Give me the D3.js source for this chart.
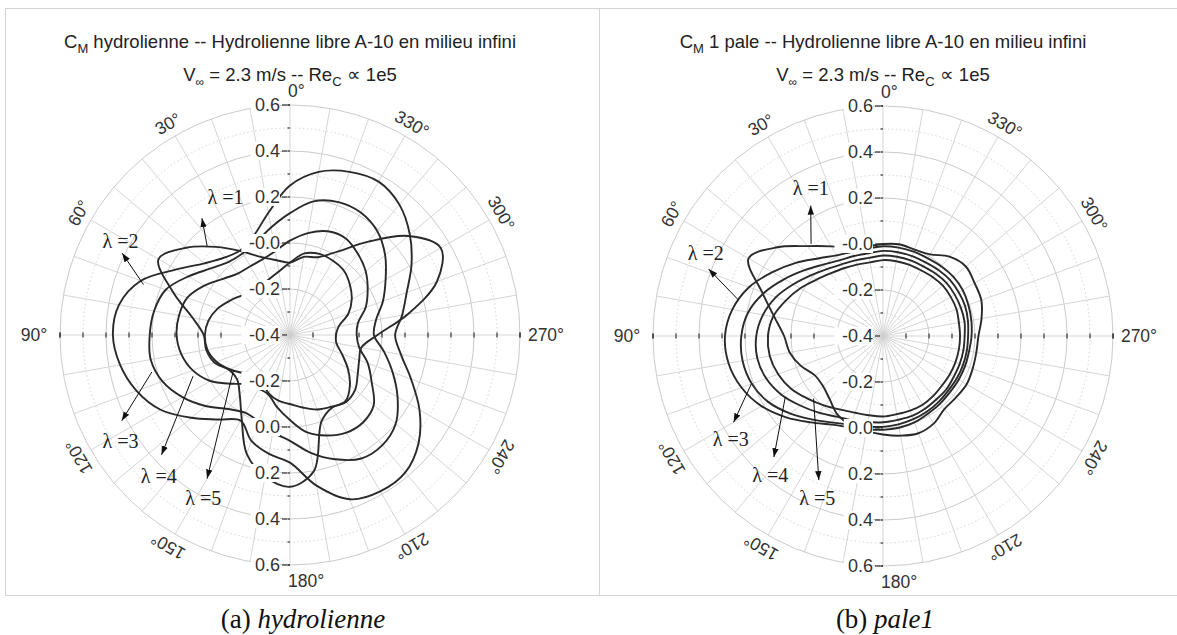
<!DOCTYPE html>
<html>
<head>
<meta charset="utf-8">
<script src="https://cdn.jsdelivr.net/npm/d3@7"></script>
<style>
  body { margin: 0; background: #fff; }
  svg { display: block; }
</style>
</head>
<body>
<div id="container"></div>
<script>
/* DATA */
const angles = [0, 10, 20, 30, 40, 50, 60, 70, 80, 90, 100, 110, 120, 130, 140, 150, 160, 170,
  180, 190, 200, 210, 220, 230, 240, 250, 260, 270, 280, 290, 300, 310, 320, 330, 340, 350];

// (a) hydrolienne - C_M vs azimuth, one array per lambda
const hydroL1 = [-0.085, -0.07, -0.04, 0.02, 0.1, 0.19, 0.26, 0.14, 0.03, -0.025, -0.03, -0.05,
  -0.095, -0.1, -0.06, 0.02, 0.15, 0.225, 0.26, 0.2, 0.0, -0.035, -0.02, -0.03, -0.06, -0.08,
  -0.085, -0.02, 0.12, 0.28, 0.357, 0.27, 0.13, 0.02, -0.04, -0.055];
const hydroL2 = [0.25, 0.14, 0.06, 0.027, 0.04, 0.085, 0.17, 0.29, 0.355, 0.37, 0.35, 0.31,
  0.25, 0.16, 0.08, 0.03, 0.09, 0.125, 0.155, 0.265, 0.36, 0.385, 0.38, 0.33, 0.25, 0.16,
  0.09, 0.057, 0.095, 0.14, 0.21, 0.28, 0.34, 0.37, 0.355, 0.32];
const hydroL3 = [0.13, 0.075, 0.03, 0.01, 0.015, 0.05, 0.11, 0.175, 0.2, 0.21, 0.215, 0.19,
  0.14, 0.08, 0.02, -0.01, 0.0, 0.03, 0.06, 0.12, 0.175, 0.22, 0.225, 0.2, 0.14, 0.075,
  0.015, -0.035, -0.02, 0.03, 0.08, 0.14, 0.19, 0.215, 0.215, 0.19];
const hydroL4 = [0.01, -0.03, -0.05, -0.055, -0.05, -0.02, 0.03, 0.075, 0.09, 0.093, 0.08, 0.05,
  0.0, -0.07, -0.12, -0.13, -0.125, -0.08, -0.03, 0.03, 0.065, 0.09, 0.095, 0.075, 0.01, -0.04,
  -0.095, -0.11, -0.1, -0.05, -0.01, 0.03, 0.06, 0.085, 0.08, 0.05];
const hydroL5 = [-0.085, -0.12, -0.14, -0.15, -0.145, -0.13, -0.1, -0.065, -0.04, -0.03, -0.035,
  -0.06, -0.1, -0.14, -0.16, -0.16, -0.13, -0.11, -0.1, -0.08, -0.055, -0.04, -0.025, -0.06,
  -0.11, -0.16, -0.195, -0.2, -0.185, -0.13, -0.09, -0.06, -0.035, -0.027, -0.025, -0.04];

// (b) pale1 - C_M of one blade
const paleL1 = [0.0, -0.005, 0.005, 0.05, 0.11, 0.2, 0.275, 0.16, 0.08, 0.03, 0.012, -0.02,
  -0.058, -0.06, -0.04, -0.005, 0.012, 0.02, 0.028, 0.04, 0.05, 0.04, 0.015, 0.015, 0.02, 0.015,
  0.012, 0.015, 0.035, 0.055, 0.06, 0.07, 0.05, 0.01, 0.0, 0.005];
const paleL2 = [-0.01, -0.015, -0.01, 0.005, 0.04, 0.095, 0.155, 0.22, 0.265, 0.287, 0.282, 0.255,
  0.21, 0.15, 0.09, 0.045, 0.022, 0.012, 0.008, 0.005, 0.0, -0.01, -0.015, -0.02, -0.02, -0.02,
  -0.02, -0.015, -0.01, -0.005, 0.0, 0.0, -0.005, -0.01, -0.01, -0.01];
const paleL3 = [-0.03, -0.035, -0.03, -0.02, 0.005, 0.045, 0.095, 0.15, 0.195, 0.216, 0.22, 0.207,
  0.175, 0.125, 0.075, 0.035, 0.01, 0.0, -0.005, -0.01, -0.015, -0.02, -0.025, -0.03, -0.03, -0.03,
  -0.03, -0.03, -0.025, -0.02, -0.02, -0.02, -0.025, -0.03, -0.03, -0.03];
const paleL4 = [-0.05, -0.055, -0.05, -0.04, -0.02, 0.01, 0.05, 0.095, 0.13, 0.151, 0.155, 0.14,
  0.11, 0.07, 0.035, 0.005, -0.01, -0.02, -0.025, -0.03, -0.03, -0.035, -0.04, -0.04, -0.045, -0.045,
  -0.045, -0.045, -0.04, -0.04, -0.04, -0.04, -0.045, -0.05, -0.05, -0.05];
const paleL5 = [-0.07, -0.075, -0.07, -0.06, -0.045, -0.02, 0.015, 0.05, 0.085, 0.1, 0.1, 0.085,
  0.06, 0.025, -0.005, -0.03, -0.045, -0.05, -0.05, -0.055, -0.055, -0.055, -0.06, -0.065, -0.065,
  -0.065, -0.065, -0.065, -0.065, -0.06, -0.06, -0.06, -0.065, -0.07, -0.07, -0.07];

const lambdaNames = ["λ =1", "λ =2", "λ =3", "λ =4", "λ =5"];

// annotation arrows: [angle, value] of curve end, arrow head and text
const hydroTail = [[43, 0.128], [71, 0.274], [105, 0.222], [113, 0.058], [122, -0.11]];
const hydroHead = [[37, 0.236], [64, 0.412], [117, 0.421], [133, 0.364], [150, 0.321]];
const hydroText = [[25, 0.263], [61, 0.443], [122, 0.469], [137, 0.437], [152, 0.403]];
const paleTail = [[38, 0.108], [76, 0.248], [110, 0.209], [122, 0.101], [132, 0.006]];
const paleHead = [[29, 0.248], [69, 0.412], [120, 0.35], [138, 0.309], [156, 0.286]];
const paleText = [[26, 0.317], [65, 0.45], [124, 0.398], [141, 0.379], [158, 0.362]];

const angleTicks = [0, 30, 60, 90, 120, 150, 180, 210, 240, 270, 300, 330];
const radialGrid = [-0.3, -0.2, -0.1, 0.0, 0.1, 0.2, 0.3, 0.4, 0.5, 0.6];
const upperTicks = [0.6, 0.4, 0.2, 0.0, -0.2];
const upperTickLabels = ["0.6", "0.4", "0.2", "-0.0", "-0.2"];
const lowerTicks = [-0.2, 0.0, 0.2, 0.4, 0.6];
const lowerTickLabels = ["-0.2", "0.0", "0.2", "0.4", "0.6"];

const titles = [" hydrolienne -- Hydrolienne libre A-10 en milieu infini",
  " 1 pale -- Hydrolienne libre A-10 en milieu infini"];
const captions = [["(a) ", "hydrolienne"], ["(b) ", "pale1"]];

/* LAYOUT */
const width = 1177, height = 635;
const R = 230;
const centers = [[290, 335], [883, 336]];

const svg = d3.select("#container").append("svg")
  .attr("width", width).attr("height", height);

svg.append("defs").append("marker")
  .attr("id", "arrow")
  .attr("viewBox", "0 -4 9 8")
  .attr("refX", 9).attr("refY", 0)
  .attr("markerUnits", "userSpaceOnUse")
  .attr("markerWidth", 9).attr("markerHeight", 8)
  .attr("orient", "auto")
  .append("path").attr("d", "M0,-3.2L9,0L0,3.2Z").attr("fill", "#111");

// panel frames
svg.append("rect").attr("x", 5.5).attr("y", 8.5).attr("width", 594).attr("height", 587)
  .attr("fill", "none").attr("stroke", "#d4d4d4");
svg.append("rect").attr("x", 599.5).attr("y", 8.5).attr("width", 600).attr("height", 587)
  .attr("fill", "none").attr("stroke", "#d4d4d4");

/* SCALES */
const rScale = d3.scaleLinear().domain([-0.4, 0.6]).range([0, R]);
// angles measured counter-clockwise from the top
const aScale = d3.scaleLinear().domain([0, 360]).range([0, -2 * Math.PI]);
const px = (a, v) => rScale(v) * Math.sin(aScale(a));
const py = (a, v) => -rScale(v) * Math.cos(aScale(a));

const line = d3.lineRadial()
  .angle(d => aScale(d[0]))
  .radius(d => rScale(d[1]))
  .curve(d3.curveCatmullRomClosed.alpha(0.5));

const panels = [
  { series: [hydroL1, hydroL2, hydroL3, hydroL4, hydroL5], tail: hydroTail, head: hydroHead, text: hydroText },
  { series: [paleL1, paleL2, paleL3, paleL4, paleL5], tail: paleTail, head: paleHead, text: paleText }
];

const sans = "'Liberation Sans', Arial, Helvetica, sans-serif";
const serif = "'Liberation Serif', 'DejaVu Serif', serif";

panels.forEach((p, i) => {
  const [cx, cy] = centers[i];
  const g = svg.append("g").attr("transform", `translate(${cx},${cy})`);

  // titles
  const t1 = svg.append("text").attr("x", cx).attr("y", 48)
    .attr("text-anchor", "middle").attr("font-family", sans).attr("font-size", 18.5).attr("fill", "#222");
  t1.append("tspan").text("C");
  t1.append("tspan").attr("font-size", 13).attr("dy", 5).text("M");
  t1.append("tspan").attr("dy", -5).text(titles[i]);

  const t2 = svg.append("text").attr("x", cx).attr("y", 81)
    .attr("text-anchor", "middle").attr("font-family", sans).attr("font-size", 18.5).attr("fill", "#222");
  t2.append("tspan").text("V");
  t2.append("tspan").attr("font-size", 12).attr("dy", 5).text("∞");
  t2.append("tspan").attr("dy", -5).text(" = 2.3 m/s -- Re");
  t2.append("tspan").attr("font-size", 13).attr("dy", 5).text("C");
  t2.append("tspan").attr("dy", -5).text(" ∝ 1e5");

  // grid circles
  g.selectAll("circle.grid").data(radialGrid).join("circle")
    .attr("class", "grid")
    .attr("r", d => rScale(d))
    .attr("fill", "none")
    .attr("stroke", d => Math.round(d * 10) % 2 === 0 ? "#cbcbcb" : "#d4d4d4")
    .attr("stroke-width", 1)
    .attr("stroke-dasharray", d => Math.round(d * 10) % 2 === 0 ? null : "1.5,2.5");

  // radial spokes every 10 degrees
  g.selectAll("line.spoke").data(angles).join("line")
    .attr("class", "spoke")
    .attr("x1", 0).attr("y1", 0)
    .attr("x2", d => px(d, 0.6)).attr("y2", d => py(d, 0.6))
    .attr("stroke", "#d0d0d0").attr("stroke-width", 0.9);

  // axis ticks every 0.1
  const tickVals = radialGrid.concat([0.6]).filter(v => v > -0.4);
  const hTicks = [];
  tickVals.forEach(v => { hTicks.push(rScale(v)); hTicks.push(-rScale(v)); });
  g.selectAll("line.htick").data(hTicks).join("line")
    .attr("class", "htick")
    .attr("x1", d => d).attr("x2", d => d).attr("y1", -2.5).attr("y2", 2.5)
    .attr("stroke", "#333").attr("stroke-width", 1.2);
  g.selectAll("line.vtick").data(hTicks).join("line")
    .attr("class", "vtick")
    .attr("x1", -2.5).attr("x2", 0).attr("y1", d => d).attr("y2", d => d)
    .attr("stroke", "#333").attr("stroke-width", 1.2);

  // curves
  p.series.forEach(vals => {
    g.append("path")
      .datum(angles.map((a, k) => [a, vals[k]]))
      .attr("d", line)
      .attr("fill", "none")
      .attr("stroke", "#2a2a2a")
      .attr("stroke-width", 1.9);
  });

  // radial tick labels with white background
  const tickLab = [];
  upperTicks.forEach((v, k) => tickLab.push({ y: -rScale(v), t: upperTickLabels[k] }));
  tickLab.push({ y: 0, t: "-0.4" });
  lowerTicks.forEach((v, k) => tickLab.push({ y: rScale(v), t: lowerTickLabels[k] }));
  const tl = g.selectAll("g.rlab").data(tickLab).join("g").attr("class", "rlab")
    .attr("transform", d => `translate(-10,${d.y})`);
  tl.append("rect")
    .attr("x", d => -d.t.length * 9.4 - 1).attr("y", -9)
    .attr("width", d => d.t.length * 9.4 + 1).attr("height", 18)
    .attr("fill", "#fff");
  tl.append("text")
    .attr("text-anchor", "end").attr("dy", "0.35em")
    .attr("font-family", sans).attr("font-size", 18).attr("fill", "#333")
    .text(d => d.t);
  tl.append("line").attr("x1", 2).attr("x2", 7).attr("y1", 0).attr("y2", 0)
    .attr("stroke", "#333").attr("stroke-width", 1.2);

  // angle labels
  angleTicks.forEach(a => {
    let x, y, rot = 0, anchor = "middle";
    if (a === 0 || a === 180) {
      x = -2; y = a === 0 ? -244 : 246; anchor = "start";
    } else if (a === 90 || a === 270) {
      x = px(a, -0.4 + 256 / R); y = py(a, -0.4 + 256 / R);
    } else {
      x = px(a, -0.4 + 244 / R); y = py(a, -0.4 + 244 / R); rot = -a;
    }
    g.append("text")
      .attr("transform", `translate(${x},${y}) rotate(${rot})`)
      .attr("text-anchor", anchor).attr("dy", "0.35em")
      .attr("font-family", sans).attr("font-size", 17.5).attr("fill", "#333")
      .text(a + "°");
  });

  // lambda annotations
  lambdaNames.forEach((name, k) => {
    g.append("line")
      .attr("x1", px(...p.tail[k])).attr("y1", py(...p.tail[k]))
      .attr("x2", px(...p.head[k])).attr("y2", py(...p.head[k]))
      .attr("stroke", "#111").attr("stroke-width", 1)
      .attr("marker-end", "url(#arrow)");
    g.append("text")
      .attr("x", px(...p.text[k])).attr("y", py(...p.text[k]))
      .attr("text-anchor", "middle").attr("dy", "0.35em")
      .attr("font-family", serif).attr("font-size", 20).attr("fill", "#222")
      .text(name);
  });

  // caption
  const cap = svg.append("text").attr("x", i === 0 ? 303 : 885).attr("y", 628)
    .attr("text-anchor", "middle").attr("font-family", serif).attr("font-size", 27).attr("fill", "#111");
  cap.append("tspan").text(captions[i][0]);
  cap.append("tspan").attr("font-style", "italic").text(captions[i][1]);
});
</script>
</body>
</html>
